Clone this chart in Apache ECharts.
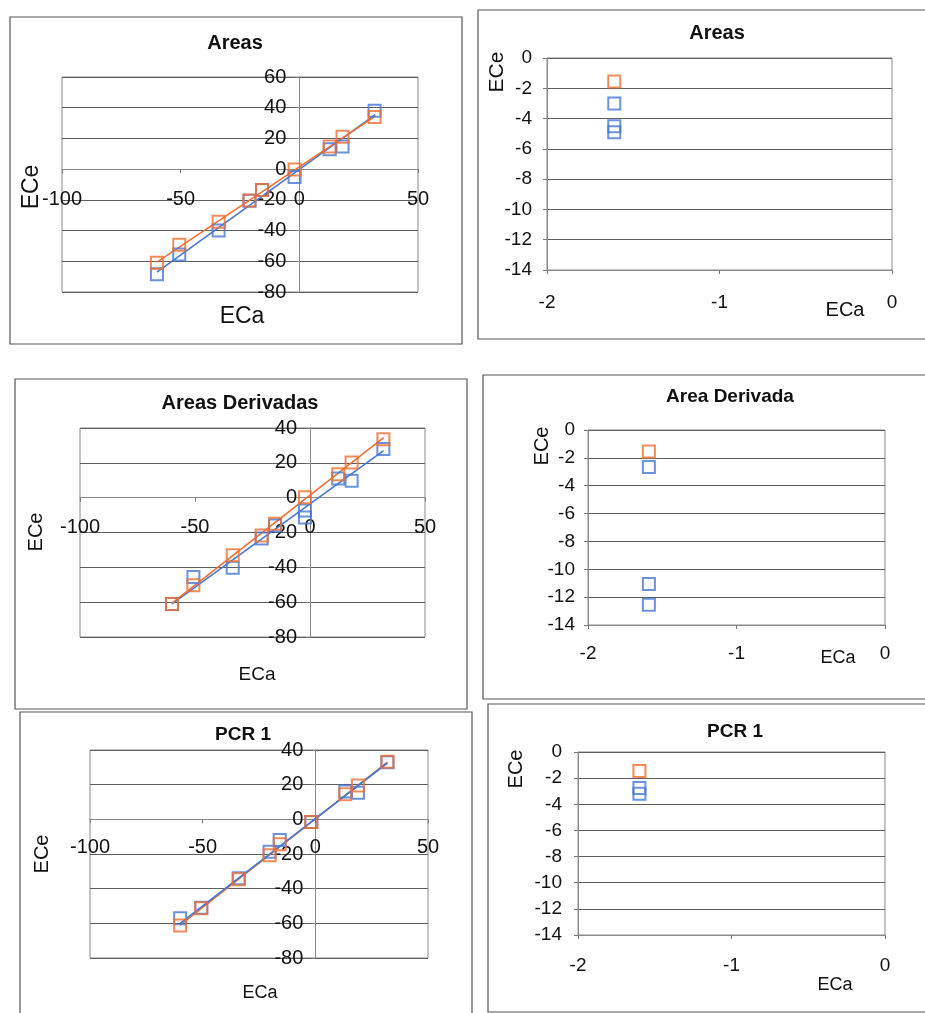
<!DOCTYPE html>
<html>
<head>
<meta charset="utf-8">
<script src="https://cdn.jsdelivr.net/npm/echarts@6/dist/echarts.min.js"></script>
<style>
html,body{margin:0;padding:0;background:#fff;}
#chart{width:925px;height:1013px;}
</style>
</head>
<body>
<div id="chart"></div>
<script>
// ---------- DATA ----------
// Panel 1: "Areas" (left)
var areasX = [-60, -50.6, -34, -21, -15.7, -2, 12.8, 18.2, 31.7];
var areasOrange = [-61, -49.2, -34.3, -20.4, -13.6, -0.2, 14.7, 21.1, 33.9];
var areasBlue = [-68.4, -55.6, -40, -20.5, -13.6, -5.1, 13, 14.7, 38];
var areasTrendX = [-60, 32];
var areasOrangeTrend = [-60.5, 34.5];
var areasBlueTrend = [-67, 35.5];

// Panel 3: "Areas Derivadas" (left)
var derivX = [-60, -50.7, -33.6, -21, -15.2, -2.2, 12.3, 18.1, 31.9];
var derivOrange = [-61, -50.3, -33.1, -21.7, -15, 0.2, 13.5, 20.2, 33.5];
var derivBlueX = [-60, -50.7, -33.6, -21, -15.2, -2.2, -2.2, 12.3, 18.1, 31.9];
var derivBlue = [-61, -45.5, -40.2, -23.5, -16, -7.4, -11.4, 11, 9.7, 28];
var derivTrendX = [-60, 32];
var derivOrangeTrend = [-60.5, 34.5];
var derivBlueTrend = [-61, 27];

// Panel 5: "PCR 1" (left)
var pcrX = [-60, -50.6, -34, -20.3, -15.8, -1.8, 13.3, 18.9, 32];
var pcrOrange = [-61.3, -51.3, -34.5, -20.7, -14.4, -1.5, 14.4, 19.5, 33.2];
var pcrBlue = [-57, -51, -34, -18.7, -11.9, -1.5, 16, 15.3, 33];
var pcrTrendX = [-60, 32];
var pcrOrangeTrend = [-61, 33];
var pcrBlueTrend = [-60, 32.5];

// Right panels (single ECa value)
var areasRX = -1.61;
var areasROrange = [-1.55];
var areasRBlue = [-3.0, -4.5, -4.9];

var derivRX = -1.59;
var derivROrange = [-1.55];
var derivRBlue = [-2.65, -11.05, -12.55];

var pcrRX = -1.6;
var pcrROrange = [-1.45];
var pcrRBlue = [-2.75, -3.2];

// Tick settings
var leftXTicks = {min: -100, max: 50, interval: 50};
var leftYTicks1 = {min: -80, max: 60, interval: 20};
var leftYTicks2 = {min: -80, max: 40, interval: 20};
var rightXTicks = {min: -2, max: 0, interval: 1};
var rightYTicks = {min: -14, max: 0, interval: 2};

var titles = ['Areas', 'Areas', 'Areas Derivadas', 'Area Derivada', 'PCR 1', 'PCR 1'];

// ---------- STYLE / LAYOUT ----------
var ORANGE = '#EE6E33';
var BLUE = '#4577D4';
var FONT = 'Liberation Sans, Arial, sans-serif';
var GRIDC = '#5e5e5e';

var grids = [
  {left: 62, top: 77, width: 356, height: 215},
  {left: 547, top: 58, width: 345, height: 212},
  {left: 80, top: 428, width: 345, height: 209},
  {left: 588, top: 430, width: 297, height: 195},
  {left: 90, top: 750, width: 338, height: 208},
  {left: 578, top: 752, width: 307, height: 183}
];
var labelFont = [20, 19, 20, 19, 20, 19];
var xMargin = [20, 23, 20, 19, 18, 21];
var yMargin = [13, 15, 13, 13, 12, 16];

function pairs(xs, ys) { return ys.map(function (y, i) { return [xs[i], y]; }); }
function constPairs(x, ys) { return ys.map(function (y) { return [x, y]; }); }

var option = {
  backgroundColor: '#fff',
  animation: false,
  grid: [], xAxis: [], yAxis: [], series: [], graphic: []
};

grids.forEach(function (g, i) {
  var isLeft = (i % 2 === 0);
  option.grid.push({
    left: g.left, top: g.top, width: g.width, height: g.height,
    show: true, borderColor: '#8a8a8a', borderWidth: 1,
    backgroundColor: 'transparent', containLabel: false, outerBoundsMode: 'none'
  });
  var xt = isLeft ? leftXTicks : rightXTicks;
  var yt = isLeft ? (i === 0 ? leftYTicks1 : leftYTicks2) : rightYTicks;
  // Left panels: axes cross at zero (Excel style) -> shift the axis to the zero line.
  var xOff = isLeft ? -g.height * (0 - yt.min) / (yt.max - yt.min) : 0;
  var yOff = isLeft ? -g.width * (0 - xt.min) / (xt.max - xt.min) : 0;
  option.xAxis.push({
    type: 'value', gridIndex: i, min: xt.min, max: xt.max, interval: xt.interval,
    position: 'bottom', offset: xOff,
    axisLine: {show: true, onZero: false, lineStyle: {color: '#8a8a8a', width: 1}},
    axisTick: {show: true, length: 4, lineStyle: {color: '#777'}},
    splitLine: {show: false},
    axisLabel: {color: '#111', fontSize: labelFont[i], fontFamily: FONT, margin: xMargin[i],
                showMinLabel: true, showMaxLabel: true}
  });
  option.yAxis.push({
    type: 'value', gridIndex: i, min: yt.min, max: yt.max, interval: yt.interval,
    position: 'left', offset: yOff,
    axisLine: {show: true, onZero: false, lineStyle: {color: '#8a8a8a', width: 1}},
    axisTick: {show: true, length: 4, lineStyle: {color: '#777'}},
    splitLine: {show: true, lineStyle: {color: GRIDC, width: 1}},
    axisLabel: {color: '#111', fontSize: labelFont[i], fontFamily: FONT, margin: yMargin[i],
                showMinLabel: true, showMaxLabel: true}
  });
});

function trend(idx, xs, ys, color) {
  option.series.push({
    type: 'line', xAxisIndex: idx, yAxisIndex: idx, data: pairs(xs, ys),
    showSymbol: false, symbol: 'none', silent: true, z: 2,
    lineStyle: {color: color, width: 1.6}
  });
}
function marks(idx, data, color) {
  option.series.push({
    type: 'scatter', xAxisIndex: idx, yAxisIndex: idx, data: data,
    symbol: 'rect', symbolSize: 12, z: 3,
    itemStyle: {color: 'rgba(255,255,255,0)', borderColor: color, borderWidth: 2}
  });
}

// Panel 1
trend(0, areasTrendX, areasBlueTrend, BLUE);
trend(0, areasTrendX, areasOrangeTrend, ORANGE);
marks(0, pairs(areasX, areasBlue), BLUE);
marks(0, pairs(areasX, areasOrange), ORANGE);
// Panel 2
marks(1, constPairs(areasRX, areasRBlue), BLUE);
marks(1, constPairs(areasRX, areasROrange), ORANGE);
// Panel 3
trend(2, derivTrendX, derivBlueTrend, BLUE);
trend(2, derivTrendX, derivOrangeTrend, ORANGE);
marks(2, pairs(derivBlueX, derivBlue), BLUE);
marks(2, pairs(derivX, derivOrange), ORANGE);
// Panel 4
marks(3, constPairs(derivRX, derivRBlue), BLUE);
marks(3, constPairs(derivRX, derivROrange), ORANGE);
// Panel 5
trend(4, pcrTrendX, pcrOrangeTrend, ORANGE);
trend(4, pcrTrendX, pcrBlueTrend, BLUE);
marks(4, pairs(pcrX, pcrBlue), BLUE);
marks(4, pairs(pcrX, pcrOrange), ORANGE);
// Panel 6
marks(5, constPairs(pcrRX, pcrRBlue), BLUE);
marks(5, constPairs(pcrRX, pcrROrange), ORANGE);

// Panel frames
var frames = [
  [10, 17, 452, 327],
  [478, 10, 460, 329],
  [15, 379, 452, 330],
  [483, 375, 460, 324],
  [20, 712, 452, 320],
  [488, 704, 460, 308]
];
frames.forEach(function (f) {
  option.graphic.push({type: 'rect', silent: true, z: -1,
    shape: {x: f[0], y: f[1], width: f[2], height: f[3]},
    style: {fill: 'none', stroke: '#555', lineWidth: 1.2}});
});

// Titles
var titlePos = [[235, 43, 20], [717, 33, 20], [240, 403, 20], [730, 397, 19], [243, 735, 19], [735, 732, 19]];
titlePos.forEach(function (p, i) {
  option.graphic.push({type: 'text', x: p[0], y: p[1], silent: true,
    style: {text: titles[i], fill: '#111', font: 'bold ' + p[2] + 'px ' + FONT,
            align: 'center', verticalAlign: 'middle'}});
});

// Axis names ECa
var ecaPos = [[242, 317, 23], [845, 310, 20], [257, 675, 19], [838, 658, 18], [260, 993, 18], [835, 985, 18]];
ecaPos.forEach(function (p) {
  option.graphic.push({type: 'text', x: p[0], y: p[1], silent: true,
    style: {text: 'ECa', fill: '#111', font: p[2] + 'px ' + FONT,
            align: 'center', verticalAlign: 'middle'}});
});
// Axis names ECe (rotated)
var ecePos = [[32, 187, 23], [497, 72, 21], [36, 532, 20], [542, 446, 20], [42, 854, 20], [516, 769, 20]];
ecePos.forEach(function (p) {
  option.graphic.push({type: 'text', x: p[0], y: p[1], rotation: Math.PI / 2, silent: true,
    style: {text: 'ECe', fill: '#111', font: p[2] + 'px ' + FONT,
            align: 'center', verticalAlign: 'middle'}});
});

var chart = echarts.init(document.getElementById('chart'), null, {renderer: 'canvas'});
chart.setOption(option);
</script>
</body>
</html>
